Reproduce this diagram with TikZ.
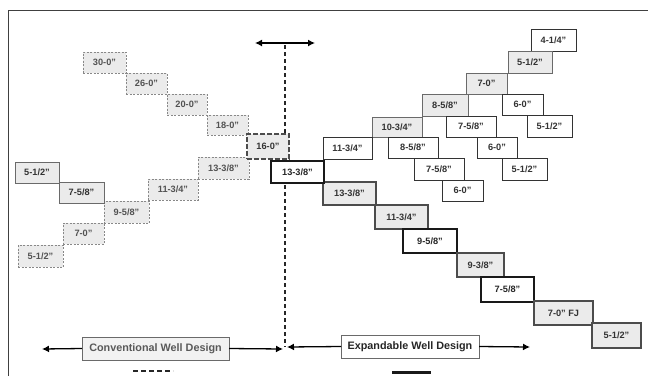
\documentclass[tikz,border=0pt]{standalone}
\usepackage{fontspec}
\setmainfont{Liberation Sans}
\usetikzlibrary{arrows.meta}
\definecolor{lg}{HTML}{EBEBEB}
\definecolor{dg}{HTML}{333333}
\definecolor{mg}{HTML}{6A6A6A}
\tikzset{
  bx/.style={inner sep=0pt, outer sep=0pt, anchor=center, font=\fontsize{9.2}{10}\selectfont\bfseries, text=dg},
  dsh/.style={bx, draw=mg!80, fill=lg, line width=0.9pt, dash pattern=on 2pt off 1.5pt, text=dg!85},
  thin/.style={bx, draw=dg, fill=white, line width=1pt},
  thing/.style={bx, draw=mg, fill=lg, line width=1pt},
  thkb/.style={bx, draw=black!90, fill=white, line width=2.2pt, text=black!85},
  thkg/.style={bx, draw=black!70, fill=lg, line width=2.2pt},
  thkd/.style={bx, draw=black!70, fill=lg, line width=2.2pt, dash pattern=on 5pt off 2pt},
  lab/.style={inner sep=0pt, outer sep=0pt, anchor=center, draw=mg, line width=0.9pt, font=\fontsize{10.8}{12}\selectfont\bfseries},
  arr/.style={line width=1.3pt, -{Latex[length=7pt,width=7pt]}},
  darr/.style={line width=1.3pt, {Latex[length=7pt,width=7pt]}-{Latex[length=7pt,width=7pt]}}
}
\newcommand\bx[7]{%
  \pgfmathsetmacro\bxw{#5-#3}\pgfmathsetmacro\bxh{#6-#4}%
  \pgfmathsetmacro\bxx{(#3+#5)/2}\pgfmathsetmacro\bxy{(#4+#6)/2}%
  \node[#2, minimum width=\bxw pt, minimum height=\bxh pt] (#1) at (\bxx,\bxy) {#7};}
\begin{document}
\begin{tikzpicture}[x=1pt,y=-1pt]
\useasboundingbox (0,0) rectangle (648,376);
\fill[white] (0,0) rectangle (648,376);
% frame
\draw[line width=1pt, black!75] (8,376) -- (8,10) -- (648,10);
% divider
\coordinate (tl) at (255,43);
\coordinate (tr) at (315,43);
\coordinate (vt) at (285,45);
\coordinate (vb) at (285,347);
\draw[darr] (tl) -- (tr);
\draw[line width=1.5pt, black!85, dash pattern=on 4pt off 3pt] (vt) -- (vb);
% conventional (dashed)
\bx{c30}{dsh}{83}{52}{126}{73}{30-0"}
\bx{c26}{dsh}{126}{73}{167}{94}{26-0"}
\bx{c20}{dsh}{167}{94}{207}{115}{20-0"}
\bx{c18}{dsh}{207}{115}{248}{135}{18-0"}
\bx{c133}{dsh}{198}{157}{249}{179}{13-3/8"}
\bx{c117}{dsh}{148}{179}{198}{200}{11-3/4"}
\bx{c95}{dsh}{104}{201}{149}{223}{9-5/8"}
\bx{c70}{dsh}{63}{223}{104}{244}{7-0"}
\bx{c55}{dsh}{18}{245}{63}{267}{5-1/2"}
\bx{l55}{thing}{15}{162}{59}{183}{5-1/2"}
\bx{l75}{thing}{59}{182}{104}{203}{7-5/8"}
% right tree
\bx{r425}{thin}{531}{29}{576}{51}{4-1/4"}
\bx{r55a}{thing}{508}{51}{552}{73}{5-1/2"}
\bx{r70}{thing}{466}{73}{507}{94}{7-0"}
\bx{r85a}{thing}{422}{94}{468}{116}{8-5/8"}
\bx{r60a}{thin}{502}{94}{543}{115}{6-0"}
\bx{r55b}{thin}{527}{115}{572}{137}{5-1/2"}
\bx{r103}{thing}{372}{117}{422}{137}{10-3/4"}
\bx{r75a}{thin}{446}{116}{496}{137}{7-5/8"}
\bx{r117}{thin}{323}{137}{372}{159}{11-3/4"}
\bx{r85b}{thin}{388}{137}{438}{158}{8-5/8"}
\bx{r60b}{thin}{477}{137}{517}{158}{6-0"}
\bx{r75b}{thin}{414}{158}{464}{180}{7-5/8"}
\bx{r55c}{thin}{502}{158}{547}{180}{5-1/2"}
\bx{r60c}{thin}{442}{180}{483}{201}{6-0"}
% expandable chain
\bx{c16}{thkd}{247}{134}{289}{159}{16-0"}
\bx{e133b}{thkg}{323}{182}{376}{205}{13-3/8"}
\bx{e133a}{thkb}{271}{161}{324}{183}{13-3/8"}
\bx{e117}{thkg}{375}{205}{428}{229}{11-3/4"}
\bx{e95}{thkb}{403}{229}{457}{253}{9-5/8"}
\bx{e93}{thkg}{457}{253}{504}{277}{9-3/8"}
\bx{e75}{thkb}{481}{277}{534}{302}{7-5/8"}
\bx{e70}{thkg}{534}{301}{593}{325}{7-0" FJ}
\bx{e55}{thkg}{592}{323}{641}{348}{5-1/2"}
% labels
\node[lab, fill=black!5, text=black!65, minimum width=147pt, minimum height=23pt] (conv) at (155.5,348.5) {Conventional Well Design};
\node[lab, fill=white, text=black!85, minimum width=138pt, minimum height=23pt] (expd) at (410,346.5) {Expandable Well Design};
\coordinate (al) at (42,349);
\coordinate (am) at (283,349);
\coordinate (bm) at (287,347);
\coordinate (br) at (530,347);
\draw[arr] (conv.west) -- (al);
\draw[arr] (conv.east) -- (am);
\draw[arr] (expd.west) -- (bm);
\draw[arr] (expd.east) -- (br);
% legend samples
\coordinate (ld1) at (133,371);
\coordinate (ld2) at (173,371);
\coordinate (ls1) at (392,372);
\coordinate (ls2) at (431,372);
\draw[line width=1.8pt, black!85, dash pattern=on 5pt off 3pt] (ld1) -- (ld2);
\draw[line width=3pt, black!90] (ls1) -- (ls2);
\end{tikzpicture}
\end{document}
